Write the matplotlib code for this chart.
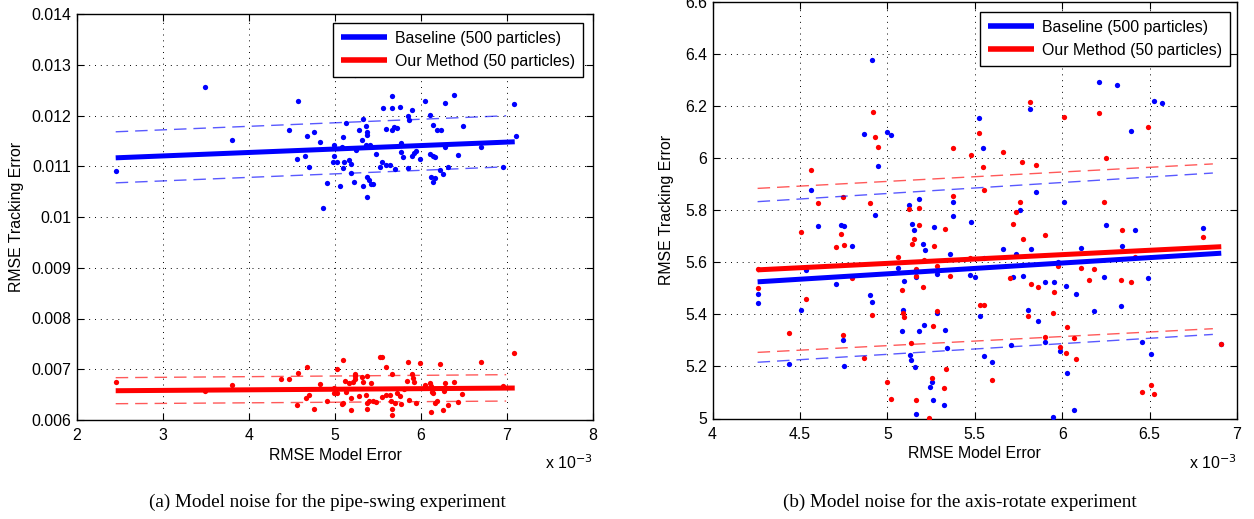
import matplotlib
matplotlib.use("Agg")
import matplotlib.pyplot as plt
from matplotlib.ticker import FixedLocator, FixedFormatter

# ---------------- Panel (a): pipe-swing ----------------
# x values are RMSE model error in units of 1e-3
a_blue_x = [2.455, 3.494, 3.802, 4.464, 4.573, 4.670, 4.751, 4.821, 4.561, 4.654,
            4.701, 4.907, 4.864, 4.988, 4.988, 4.973, 5.027, 5.097, 5.085, 5.124,
            5.105, 5.097, 5.167, 5.183, 5.186, 5.058, 5.241, 5.221, 5.237, 5.280,
            5.318, 5.322, 5.361, 5.377, 5.377, 5.365, 5.408, 5.322, 5.377, 5.400,
            5.416, 5.447, 5.377, 5.474, 5.524, 5.544, 5.594, 5.645, 5.695, 5.598,
            5.668, 5.683, 5.718, 5.664, 5.555, 5.750, 5.668, 5.847, 5.862, 5.901,
            5.765, 5.765, 5.792, 5.847, 5.901, 5.920, 5.940, 5.983, 6.041, 6.107,
            6.134, 6.184, 6.235, 6.099, 6.138, 6.165, 6.274, 6.383, 6.483, 6.274,
            6.425, 6.313, 6.216, 6.258, 6.118, 6.157, 6.138, 6.701, 6.953, 7.078,
            7.105]
a_blue_y = [0.010908, 0.012556, 0.011516, 0.011717, 0.012283, 0.011605, 0.011678, 0.011487, 0.011138, 0.011204,
            0.010993, 0.010664, 0.010178, 0.011428, 0.011204, 0.011086, 0.011086, 0.011579, 0.011382, 0.011862,
            0.011092, 0.010967, 0.011132, 0.011046, 0.010868, 0.010618, 0.011322, 0.010684, 0.012796, 0.011717,
            0.011526, 0.011928, 0.011789, 0.011671, 0.011618, 0.011421, 0.011428, 0.010618, 0.010783, 0.010737,
            0.010645, 0.010645, 0.010395, 0.011250, 0.010993, 0.011086, 0.011020, 0.011033, 0.010947, 0.011743,
            0.011711, 0.011783, 0.011763, 0.012151, 0.012145, 0.012165, 0.012375, 0.012000, 0.011908, 0.012099,
            0.011467, 0.011276, 0.011184, 0.010967, 0.011211, 0.011263, 0.011303, 0.011145, 0.012283, 0.012007,
            0.011816, 0.011717, 0.011717, 0.011243, 0.011211, 0.011178, 0.012237, 0.012401, 0.011789, 0.011388,
            0.011230, 0.010993, 0.010921, 0.010855, 0.010783, 0.010763, 0.010691, 0.011388, 0.010993, 0.012217,
            0.011605]

a_red_x = [2.455, 3.494, 3.802, 4.371, 4.464, 4.573, 4.670, 4.821, 4.658, 4.701,
           4.561, 4.751, 4.907, 4.988, 4.984, 5.027, 5.027, 5.097, 5.085, 5.097,
           5.113, 5.124, 5.183, 5.167, 5.186, 5.210, 5.230, 5.235, 5.232, 5.280,
           5.318, 5.322, 5.377, 5.361, 5.377, 5.377, 5.400, 5.416, 5.439, 5.474,
           5.524, 5.551, 5.598, 5.544, 5.594, 5.645, 5.668, 5.652, 5.668, 5.668,
           5.695, 5.726, 5.761, 5.800, 5.765, 5.847, 5.843, 5.862, 5.901, 5.905,
           5.916, 5.940, 5.983, 6.041, 6.107, 6.115, 6.130, 6.138, 6.118, 6.165,
           6.188, 6.216, 6.274, 6.262, 6.258, 6.313, 6.383, 6.429, 6.480, 6.701,
           6.950, 7.078]
a_red_y = [0.006742, 0.006563, 0.006695, 0.006815, 0.006815, 0.006927, 0.007046, 0.006715, 0.006430, 0.006483,
           0.006291, 0.006225, 0.006384, 0.006636, 0.006536, 0.007000, 0.006523, 0.007192, 0.006325, 0.006338,
           0.006768, 0.006556, 0.006437, 0.006735, 0.006199, 0.006748, 0.006914, 0.006861, 0.006801, 0.006464,
           0.006848, 0.006748, 0.006861, 0.006483, 0.006338, 0.006219, 0.006384, 0.006722, 0.006371, 0.006364,
           0.007232, 0.007232, 0.007053, 0.006457, 0.006483, 0.006483, 0.006914, 0.006371, 0.006219, 0.006106,
           0.006338, 0.006536, 0.006470, 0.006603, 0.006325, 0.007146, 0.006768, 0.006391, 0.006914, 0.006834,
           0.006748, 0.006344, 0.007119, 0.006689, 0.006722, 0.006669, 0.006556, 0.006523, 0.006159, 0.006338,
           0.006384, 0.007099, 0.006722, 0.006570, 0.006205, 0.006298, 0.006748, 0.006364, 0.006510, 0.007146,
           0.006669, 0.007311]

a_fit_x = [2.45, 7.09]
a_band_x = [2.45, 6.99]
a_blue_fit = [0.011166, 0.011482]
a_blue_upper = [0.011679, 0.011995]
a_blue_lower = [0.010673, 0.010989]
a_red_fit = [0.006577, 0.006630]
a_red_upper = [0.006834, 0.006893]
a_red_lower = [0.006321, 0.006373]

a_xticks = [2, 3, 4, 5, 6, 7, 8]
a_xticklabels = ["2", "3", "4", "5", "6", "7", "8"]
a_yticks = [0.006, 0.007, 0.008, 0.009, 0.010, 0.011, 0.012, 0.013, 0.014]
a_yticklabels = ["0.006", "0.007", "0.008", "0.009", "0.01", "0.011", "0.012", "0.013", "0.014"]

# ---------------- Panel (b): axis-rotate ----------------
b_blue_x = [4.258, 4.258, 4.915, 4.866, 4.998, 5.021, 4.945, 4.562, 4.931, 4.604,
            4.735, 4.751, 4.797, 4.707, 4.532, 4.507, 4.438, 4.903, 4.910, 4.744,
            4.751, 5.060, 5.097, 5.124, 5.180, 5.143, 5.154, 5.205, 5.217, 5.166,
            5.088, 5.085, 5.180, 5.212, 5.283, 5.332, 5.129, 5.138, 5.157, 5.242,
            5.256, 5.263, 5.323, 5.166, 5.339, 5.267, 5.359, 5.373, 5.373, 5.283,
            5.523, 5.546, 5.477, 5.470, 5.502, 5.553, 5.532, 5.553, 5.601, 5.664,
            5.735, 5.756, 5.719, 5.774, 5.705, 5.816, 5.850, 5.823, 5.802, 5.864,
            5.899, 5.899, 5.954, 5.947, 5.975, 5.988, 6.009, 6.023, 6.030, 6.067,
            6.078, 6.108, 6.184, 6.212, 6.316, 6.392, 6.253, 6.240, 6.341, 6.334,
            6.419, 6.528, 6.571, 6.493, 6.459, 6.507, 6.804, 6.910]
b_blue_y = [5.477, 5.444, 6.379, 6.094, 6.100, 6.089, 5.969, 5.879, 5.781, 5.739,
            5.744, 5.739, 5.663, 5.516, 5.570, 5.417, 5.210, 5.473, 5.449, 5.300,
            5.203, 5.580, 5.529, 5.822, 5.843, 5.748, 5.725, 5.670, 5.648, 5.543,
            5.417, 5.336, 5.336, 5.361, 5.404, 5.341, 5.244, 5.225, 5.196, 5.122,
            5.142, 5.071, 5.051, 5.019, 5.272, 5.734, 5.631, 5.831, 5.776, 5.556,
            6.155, 6.038, 5.753, 5.550, 5.543, 5.618, 5.393, 5.242, 5.216, 5.651,
            5.631, 5.801, 5.543, 5.547, 5.281, 6.188, 5.869, 5.651, 5.417, 5.375,
            5.525, 5.295, 5.525, 5.005, 5.603, 5.258, 5.833, 5.509, 5.173, 5.033,
            5.477, 5.654, 5.412, 6.291, 6.280, 6.103, 5.743, 5.543, 5.663, 5.431,
            5.725, 6.221, 6.211, 5.539, 5.295, 5.249, 5.730, 5.286]

b_red_x = [4.258, 4.258, 4.438, 4.509, 4.562, 4.604, 4.532, 4.707, 4.735, 4.749,
           4.751, 4.744, 4.797, 4.866, 4.899, 4.917, 4.929, 4.945, 4.910, 4.998,
           5.021, 5.060, 5.083, 5.088, 5.097, 5.124, 5.143, 5.154, 5.180, 5.180,
           5.166, 5.164, 5.205, 5.212, 5.138, 5.166, 5.240, 5.256, 5.263, 5.267,
           5.283, 5.283, 5.325, 5.336, 5.332, 5.359, 5.373, 5.373, 5.470, 5.477,
           5.523, 5.546, 5.553, 5.528, 5.555, 5.601, 5.664, 5.703, 5.717, 5.735,
           5.756, 5.768, 5.774, 5.816, 5.823, 5.850, 5.802, 5.864, 5.899, 5.899,
           5.947, 5.954, 5.975, 5.988, 6.009, 6.023, 6.030, 6.067, 6.078, 6.108,
           6.154, 6.184, 6.212, 6.253, 6.240, 6.341, 6.334, 6.392, 6.419, 6.493,
           6.459, 6.507, 6.528, 6.804, 6.910]
b_red_y = [5.576, 5.500, 5.328, 5.716, 5.955, 5.829, 5.459, 5.657, 5.707, 5.851,
           5.665, 5.320, 5.538, 5.234, 5.829, 6.178, 6.082, 6.043, 5.399, 5.141,
           5.076, 5.620, 5.495, 5.404, 5.389, 5.804, 5.670, 5.689, 5.744, 5.808,
           5.576, 5.547, 5.507, 5.607, 5.291, 5.071, 5.001, 5.154, 5.354, 5.662,
           5.412, 5.585, 5.117, 5.191, 5.729, 5.547, 6.038, 5.856, 5.615, 6.011,
           6.098, 5.967, 5.879, 5.435, 5.435, 5.146, 6.024, 5.538, 5.748, 5.795,
           5.833, 5.985, 5.688, 6.216, 5.516, 5.972, 5.393, 5.504, 5.706, 5.313,
           5.407, 5.486, 5.584, 5.276, 6.160, 5.253, 5.350, 5.311, 5.230, 5.580,
           5.532, 5.576, 6.174, 6.001, 5.833, 5.725, 5.532, 5.525, 5.622, 6.119,
           5.103, 5.127, 5.094, 5.698, 5.286]

b_fit_x = [4.258, 6.91]
b_band_x = [4.258, 6.862]
b_blue_fit = [5.525, 5.635]
b_blue_upper = [5.833, 5.943]
b_blue_lower = [5.216, 5.323]
b_red_fit = [5.571, 5.660]
b_red_upper = [5.884, 5.978]
b_red_lower = [5.254, 5.345]

b_xticks = [4, 4.5, 5, 5.5, 6, 6.5, 7]
b_xticklabels = ["4", "4.5", "5", "5.5", "6", "6.5", "7"]
b_yticks = [5.0, 5.2, 5.4, 5.6, 5.8, 6.0, 6.2, 6.4, 6.6]
b_yticklabels = ["5", "5.2", "5.4", "5.6", "5.8", "6", "6.2", "6.4", "6.6"]

legend_labels = ["Baseline (500 particles)", "Our Method (50 particles)"]
captions = ["(a) Model noise for the pipe-swing experiment",
            "(b) Model noise for the axis-rotate experiment"]

BLUE = (0, 0, 1)
RED = (1, 0, 0)
SANS = ["Liberation Sans", "DejaVu Sans"]
SERIF = ["Liberation Serif", "DejaVu Serif"]
FS = 11.4
W, H = 1254, 519

fig = plt.figure(figsize=(W / 100, H / 100), dpi=100)
axA = fig.add_axes([77 / W, 1 - 420 / H, 516 / W, 406 / H])
axB = fig.add_axes([712.5 / W, 1 - 418.5 / H, 524.5 / W, 416.5 / H])


def panel(ax, bx, by, rx, ry, fx, bandx, bfit, bup, blo, rfit, rup, rlo,
          xlim, ylim, xt, xtl, yt, ytl, ylab_x, off_y, leg_anchor):
    ax.plot(bx, by, "o", color=BLUE, ms=3.8, mew=0, zorder=3)
    ax.plot(rx, ry, "o", color=RED, ms=3.8, mew=0, zorder=3)
    hb, = ax.plot(fx, bfit, "-", color=BLUE, lw=3.6, zorder=4, solid_capstyle="butt")
    hr, = ax.plot(fx, rfit, "-", color=RED, lw=3.6, zorder=4, solid_capstyle="butt")
    for yv, c in [(bup, BLUE), (blo, BLUE), (rup, RED), (rlo, RED)]:
        ax.plot(bandx, yv, color=c, lw=1.0, alpha=0.65, dashes=(9, 5), zorder=4)
    ax.set_xlim(*xlim)
    ax.set_ylim(*ylim)
    ax.xaxis.set_major_locator(FixedLocator(xt))
    ax.xaxis.set_major_formatter(FixedFormatter(xtl))
    ax.yaxis.set_major_locator(FixedLocator(yt))
    ax.yaxis.set_major_formatter(FixedFormatter(ytl))
    ax.grid(True, color="black", linestyle=(0, (1, 5)), linewidth=0.7)
    ax.set_axisbelow(True)
    ax.tick_params(direction="in", length=5, width=0.8, top=True, right=True,
                   labelsize=FS)
    ax.tick_params(axis="y", pad=4)
    ax.tick_params(axis="x", pad=6)
    for lab in ax.get_xticklabels() + ax.get_yticklabels():
        lab.set_family(SANS)
    for s in ax.spines.values():
        s.set_linewidth(1.0)
        s.set_color("black")
    ax.set_xlabel("RMSE Model Error", fontsize=FS, family=SANS, labelpad=3)
    ax.set_ylabel("RMSE Tracking Error", fontsize=FS, family=SANS)
    ax.yaxis.set_label_coords(ylab_x, 0.5)
    leg = ax.legend([hb, hr], legend_labels, loc="upper right",
                    bbox_to_anchor=leg_anchor, fancybox=False, framealpha=1,
                    edgecolor="black", handlelength=2.9, handletextpad=0.5,
                    borderpad=0.5, labelspacing=0.5, borderaxespad=0.0,
                    prop={"family": SANS, "size": FS})
    leg.get_frame().set_linewidth(1.0)
    for h in leg.get_lines():
        h.set_linewidth(4.0)
    ax.text(1.0, off_y, r"x 10$^{-3}$", transform=ax.transAxes, ha="right",
            va="center", fontsize=FS, family=SANS)


panel(axA, a_blue_x, a_blue_y, a_red_x, a_red_y, a_fit_x, a_band_x,
      a_blue_fit, a_blue_upper, a_blue_lower, a_red_fit, a_red_upper, a_red_lower,
      (2, 8), (0.006, 0.014), a_xticks, a_xticklabels, a_yticks, a_yticklabels,
      (24.4 - 77) / 516, (420 - 463) / 406, (0.981, 0.978))
panel(axB, b_blue_x, b_blue_y, b_red_x, b_red_y, b_fit_x, b_band_x,
      b_blue_fit, b_blue_upper, b_blue_lower, b_red_fit, b_red_upper, b_red_lower,
      (4, 7), (5, 6.6), b_xticks, b_xticklabels, b_yticks, b_yticklabels,
      (674 - 712.5) / 524.5, (418.5 - 463) / 416.5, (0.987, 0.976))

fig.text(327 / W, 1 - 502 / H, captions[0], ha="center", va="center",
         fontsize=13.8, family=SERIF)
fig.text(960 / W, 1 - 502 / H, captions[1], ha="center", va="center",
         fontsize=13.8, family=SERIF)

fig.savefig("out.png", dpi=100)
